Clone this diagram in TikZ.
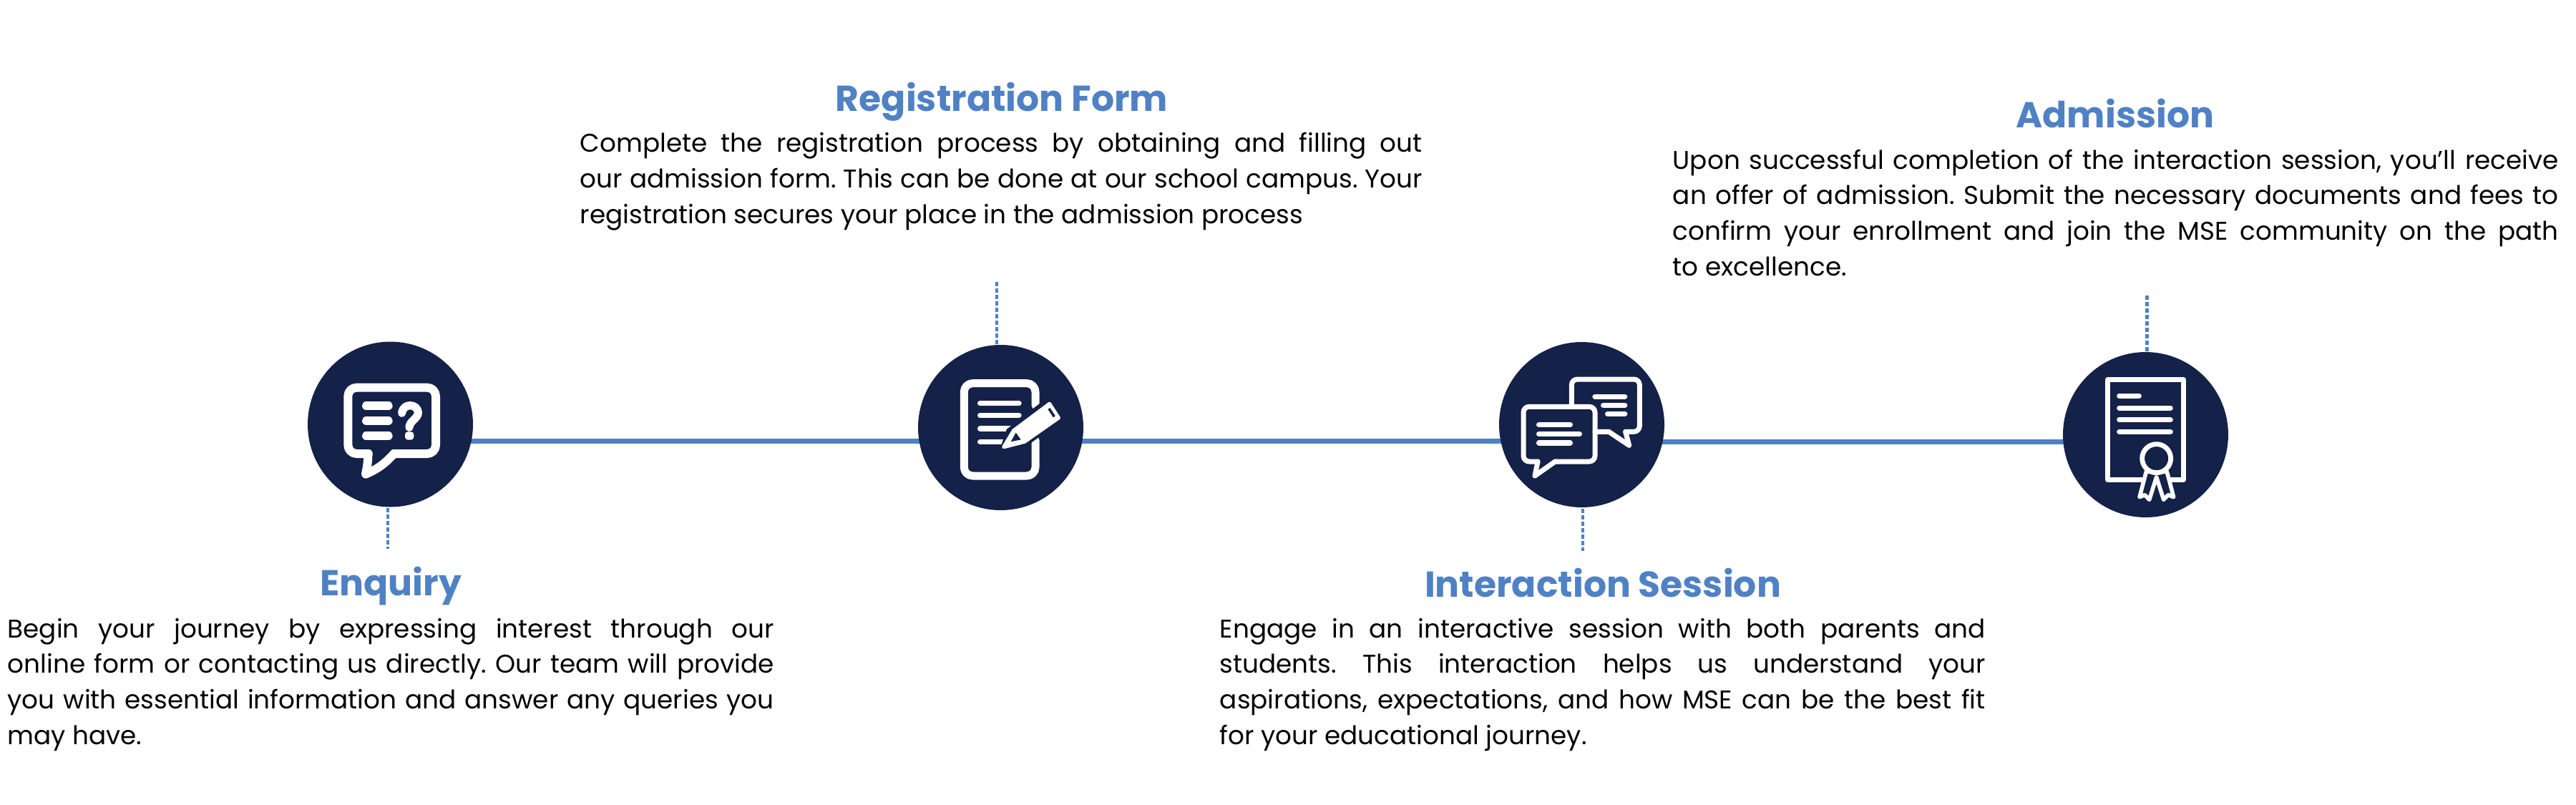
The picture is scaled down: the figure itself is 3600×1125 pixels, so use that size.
\documentclass[tikz,border=0pt]{standalone}
\usepackage{fontspec}
\setmainfont{Poppins}
\usetikzlibrary{backgrounds}
\definecolor{navy}{HTML}{142148}
\definecolor{accent}{HTML}{4F81C4}
\newlength{\blockW}
\newcommand{\jline}[1]{\hbox to \blockW{#1}}
\newcommand{\lastline}[1]{\hbox{#1}}
\frenchspacing
\tikzset{
  px/.style={x=0.25pt,y=-0.25pt},
  disc/.style={circle,fill=navy,draw=none,minimum size=57.75pt,inner sep=0pt},
  timeline/.style={draw=accent,line width=1.75pt},
  stem/.style={draw=accent,line width=1.15pt,dash pattern=on 1.5pt off 0.75pt},
  heading/.style={anchor=base,inner sep=0pt,text=accent,font=\fontsize{12.6pt}{15pt}\selectfont\bfseries},
  body/.style={anchor=base west,inner sep=0pt,font=\fontsize{8.95pt}{12.4pt}\selectfont},
  ic/.style={draw=white,line cap=round,line join=round,fill=none},
}
\begin{document}
\begin{tikzpicture}[px]
\useasboundingbox (0,0) rectangle (3600,1125);
% discs
\node[disc] (c1) at (545.5,593) {};
\node[disc] (c2) at (1398.5,597.5) {};
\node[disc] (c3) at (2210.5,593.5) {};
\node[disc] (c4) at (2998.5,607.5) {};
% connector levels and stem ends
\coordinate (la) at (0,616);
\coordinate (lb) at (0,617);
\coordinate (s1) at (542,767);
\coordinate (s2) at (1393,392);
\coordinate (s3) at (2212,770);
\coordinate (s4) at (3000.7,412);
\begin{scope}[on background layer]
\draw[timeline] (c1 |- la) -- (c2 |- la);
\draw[timeline] (c2 |- la) -- (c3 |- la);
\draw[timeline] (c3 |- lb) -- (c4 |- lb);
\draw[stem] (s1 |- c1.center) -- (s1);
\draw[stem] (s2 |- c2.center) -- (s2);
\draw[stem] (s3 |- c3.center) -- (s3);
\draw[stem] (s4 |- c4.center) -- (s4);
\end{scope}
% icon 1
\begin{scope}[shift={(400,460)},scale=1/3]
\draw[ic,line width=3pt,rounded corners=3pt] (344,522) -- (259,522) -- (259,245) -- (627,245) -- (627,522) -- (452,522);
\draw[ic,line width=3pt] (344,522) .. controls (342,560) and (338,585) .. (333,608) .. controls (400,580) and (430,545) .. (452,522);
\foreach \yy in {321,384,447}{\draw[ic,line width=2.85pt] (335,\yy) -- (429,\yy);}
\draw[ic,line width=2.8pt] (485,352) .. controls (488,328) and (505,320) .. (520,320) .. controls (540,320) and (553,335) .. (553,350) .. controls (553,375) and (516,385) .. (516,412);
\fill[white,rounded corners=1pt] (498,430) rectangle (535,464);
\end{scope}
% icon 2
\begin{scope}[shift={(1260,460)},scale=1/3]
\draw[ic,line width=2.75pt,rounded corners=3pt] (561,320) -- (561,227) -- (262,227) -- (262,615) -- (561,615) -- (561,465);
\draw[ic,line width=1.85pt] (329,311) -- (492,311);
\draw[ic,line width=1.85pt] (329,361) -- (492,361);
\draw[ic,line width=1.85pt] (329,417) -- (470,417);
\draw[ic,line width=1.85pt] (329,473) -- (425,473);
\fill[navy] (440,420) -- (600,295) -- (680,375) -- (525,490) -- (410,510) -- cycle;
\filldraw[white,line width=1.3pt,line join=round] (428,494) -- (470,425) -- (620,313) -- (658,372) -- (515,472) -- cycle;
\fill[navy] (458,472) -- (479,434) -- (500,463) -- cycle;
\draw[navy,line width=0.9pt] (618,333) -- (640,367);
\end{scope}
% icon 3
\begin{scope}[shift={(2080,460)},scale=1/3]
\draw[ic,line width=1.75pt,rounded corners=2pt] (349,325) -- (349,210) -- (634,210) -- (634,430) -- (575,430);
\draw[ic,line width=1.75pt] (575,430) -- (590,487) -- (505,430) -- (447,430);
\draw[ic,line width=1.75pt,rounded corners=2pt] (280,555) -- (447,555) -- (447,325) -- (147,325) -- (147,555) -- (207,555);
\draw[ic,line width=1.75pt] (207,555) -- (195,615) -- (280,555);
\foreach \xa/\xb/\yy in {447/572/283,482/572/319,500/572/355,212/343/401,212/382/439,212/343/477}{\draw[ic,line width=1.85pt] (\xa,\yy) -- (\xb,\yy);}
\end{scope}
% icon 4
\begin{scope}[shift={(2870,400)},scale=1/3]
\draw[ic,line width=1.65pt] (227,391) rectangle (545,812);
\draw[ic,line width=1.75pt] (275,459) -- (358,459);
\foreach \yy in {510,560,610}{\draw[ic,line width=1.75pt] (275,\yy) -- (490,\yy);}
\filldraw[fill=navy,draw=white,line width=1.4pt,line join=round] (388,778) -- (360,884) -- (382,875) -- (401,895) -- (431,800) -- (461,895) -- (480,875) -- (503,884) -- (475,778) -- cycle;
\filldraw[fill=navy,draw=white,line width=1.7pt] (431,722) circle (60);
\end{scope}
% texts
\node[heading] (t1) at (546,832) {Enquiry};
\node[heading] (t2) at (1400,155) {Registration Form};
\node[heading] (t3) at (2240,834) {Interaction Session};
\node[heading] (t4) at (2956,178) {Admission};
\setlength{\blockW}{267.75pt}
\node[body] (b1) at (10,1040) {\vbox{%
\jline{Begin your journey by expressing interest through our}%
\jline{online form or contacting us directly. Our team will provide}%
\jline{you with essential information and answer any queries you}%
\lastline{may have.}}};
\setlength{\blockW}{294.25pt}
\node[body] (b2) at (810,312) {\vbox{%
\jline{Complete the registration process by obtaining and filling out}%
\jline{our admission form. This can be done at our school campus. Your}%
\lastline{registration secures your place in the admission process}}};
\setlength{\blockW}{267.5pt}
\node[body] (b3) at (1704,1040) {\vbox{%
\jline{Engage in an interactive session with both parents and}%
\jline{students. This interaction helps us understand your}%
\jline{aspirations, expectations, and how MSE can be the best fit}%
\lastline{for your educational journey.}}};
\setlength{\blockW}{309.5pt}
\node[body] (b4) at (2337,385) {\vbox{%
\jline{Upon successful completion of the interaction session, you'll receive}%
\jline{an offer of admission. Submit the necessary documents and fees to}%
\jline{confirm your enrollment and join the MSE community on the path}%
\lastline{to excellence.}}};
\end{tikzpicture}
\end{document}
